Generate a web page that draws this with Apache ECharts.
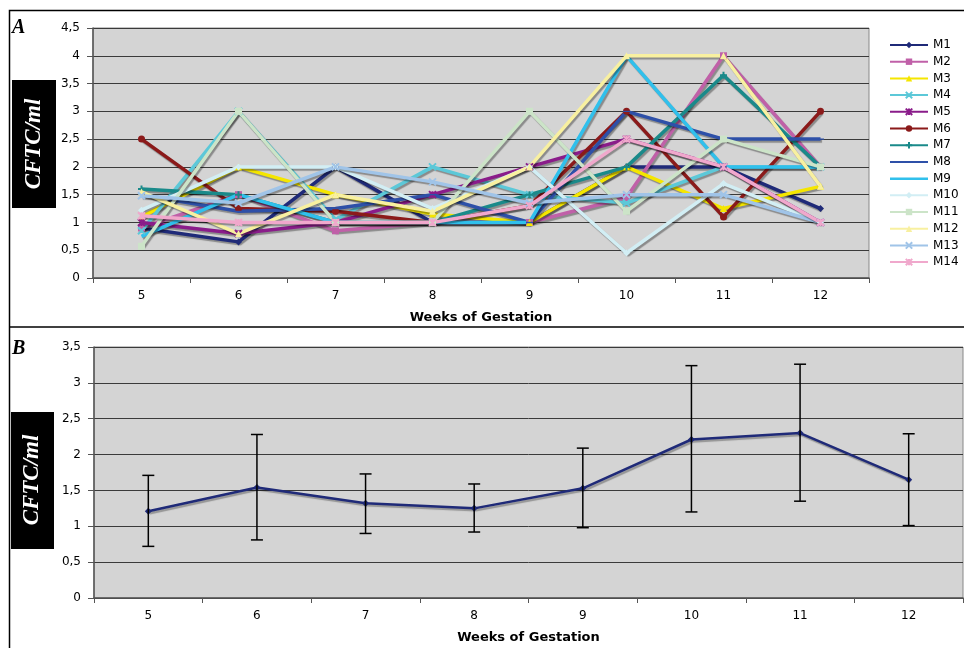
<!DOCTYPE html>
<html><head><meta charset="utf-8">
<script src="https://cdn.jsdelivr.net/npm/echarts@6/dist/echarts.min.js"></script>
<style>html,body{margin:0;padding:0;background:#fff}#c{width:964px;height:648px}</style>
</head><body><div id="c"></div>
<script>
var weeks = ['5','6','7','8','9','10','11','12'];
var seriesNames = ['M1','M2','M3','M4','M5','M6','M7','M8','M9','M10','M11','M12','M13','M14'];
var M1  = [0.9, 0.65, 2.0, 1.0, 1.0, 2.0, 2.0, 1.25];
var M2  = [0.9, 1.5, 0.85, 1.0, 1.0, 1.45, 4.0, 2.0];
var M3  = [1.1, 2.0, 1.5, 1.15, 1.0, 2.0, 1.25, 1.65];
var M4  = [0.85, 3.0, 1.05, 2.0, 1.5, 1.35, 2.0, 2.0];
var M5  = [1.0, 0.8, 1.0, 1.5, 2.0, 2.5, 2.0, 1.0];
var M6  = [2.5, 1.25, 1.2, 1.0, 1.3, 3.0, 1.1, 3.0];
var M7  = [1.6, 1.5, 1.0, 1.0, 1.5, 2.0, 3.65, 2.0];
var M8  = [1.5, 1.2, 1.25, 1.5, 1.0, 3.0, 2.5, 2.5];
var M9  = [0.75, 1.5, 1.0, 1.0, 1.0, 4.0, 2.0, 2.0];
var M10 = [1.22, 2.0, 2.0, 1.25, 2.0, 0.45, 1.7, 1.0];
var M11 = [0.57, 3.0, 1.0, 1.0, 3.0, 1.2, 2.5, 2.0];
var M12 = [1.55, 0.8, 1.5, 1.2, 2.0, 4.0, 4.0, 1.65];
var M13 = [1.48, 1.35, 2.0, 1.73, 1.35, 1.5, 1.5, 1.0];
var M14 = [1.12, 1.0, 1.0, 1.0, 1.3, 2.5, 2.0, 1.0];
var meanValues = [1.21, 1.54, 1.32, 1.25, 1.53, 2.21, 2.30, 1.65];
var errLow  = [0.72, 0.81, 0.90, 0.92, 0.98, 1.20, 1.35, 1.01];
var errHigh = [1.71, 2.28, 1.73, 1.59, 2.09, 3.24, 3.26, 2.29];

var allData = [M1,M2,M3,M4,M5,M6,M7,M8,M9,M10,M11,M12,M13,M14];
var colors = ['#1F2A78','#C060A8','#F5E600','#5CC8D8','#8A1C8A','#8B1A1A','#1A8A8A','#2E50A8','#30C0EC','#D2EEF4','#CCE4C8','#F8F0A0','#A0C4E8','#F0A8CC'];
var X = 'path://M0,0L10,10L10,10L0,0ZM10,0L0,10L0,10L10,0Z';
var STAR = 'path://M0,0L10,10L10,10L0,0ZM10,0L0,10L0,10L10,0ZM5,0L5,10L5,10L5,0Z';
var PLUS = 'path://M5,0L5,10L5,10L5,0ZM0,5L10,5L10,5L0,5Z';
var DASH = 'path://M0,0L0,0ZM0,4L10,4L10,6L0,6ZM10,10L10,10Z';
var symbols = ['diamond','rect','triangle',X,STAR,'circle',PLUS,DASH,'none','diamond','rect','triangle',X,STAR];
var strokeSym = [false,false,false,true,true,false,true,false,false,false,false,false,true,true];

var fmt = function(v){ return String(v).replace('.', ','); };
var axisFont = {fontFamily:'DejaVu Sans', fontSize:12, color:'#000'};

var series = [];
allData.forEach(function(d, i){
  series.push({
    name: seriesNames[i], type:'line', xAxisIndex:0, yAxisIndex:0, data:d,
    symbol: symbols[i], symbolSize: 7, showSymbol: true,
    color: colors[i],
    lineStyle:{width:3.5, color:colors[i], shadowColor:'rgba(0,0,0,0.35)', shadowOffsetX:1.5, shadowOffsetY:2, shadowBlur:1},
    itemStyle:{color:colors[i], borderColor:colors[i], borderWidth: strokeSym[i]?2:0},
    animation:false, z: 3
  });
});
series.push({
  name:'mean', type:'line', xAxisIndex:1, yAxisIndex:1, data: meanValues,
  symbol:'diamond', symbolSize:7, color:'#1F2A78',
  lineStyle:{width:2.5, color:'#1F2A78', shadowColor:'rgba(0,0,0,0.3)', shadowOffsetX:1.5, shadowOffsetY:2, shadowBlur:1},
  itemStyle:{color:'#1F2A78'}, animation:false, z:4
});
series.push({
  name:'err', type:'custom', xAxisIndex:1, yAxisIndex:1,
  data: weeks.map(function(w,i){ return [i, errLow[i], errHigh[i]]; }),
  renderItem: function(params, api){
    var lo = api.coord([api.value(0), api.value(1)]);
    var hi = api.coord([api.value(0), api.value(2)]);
    var w = 6;
    var st = {stroke:'#000', lineWidth:1.5};
    return {type:'group', children:[
      {type:'line', shape:{x1:lo[0],y1:lo[1],x2:hi[0],y2:hi[1]}, style:st},
      {type:'line', shape:{x1:lo[0]-w,y1:lo[1],x2:lo[0]+w,y2:lo[1]}, style:st},
      {type:'line', shape:{x1:hi[0]-w,y1:hi[1],x2:hi[0]+w,y2:hi[1]}, style:st}
    ]};
  },
  animation:false, z:5
});

function xAxis(gi){
  return {type:'category', gridIndex:gi, data:weeks, boundaryGap:true,
    name:'Weeks of Gestation', nameLocation:'middle', nameGap:33,
    nameTextStyle:{fontFamily:'DejaVu Sans', fontSize:13, fontWeight:'bold', color:'#000'},
    axisLine:{lineStyle:{color:'#555', width:1.5}},
    axisTick:{show:true, alignWithLabel:false, length:5, lineStyle:{color:'#555'}},
    axisLabel:Object.assign({margin:12}, axisFont),
    splitLine:{show:false}};
}
function yAxis(gi, max){
  return {type:'value', gridIndex:gi, min:0, max:max, interval:0.5,
    axisLine:{show:true, lineStyle:{color:'#555', width:1.5}},
    axisTick:{show:true, length:6, lineStyle:{color:'#555'}},
    axisLabel:Object.assign({margin:13, formatter:fmt}, axisFont),
    splitLine:{show:true, lineStyle:{color:'#3a3a3a', width:1}}};
}

var lineOnlyIcon = 'path://M0,0L0,0ZM0,3L38,3L38,5.5L0,5.5ZM38,8L38,8Z';
var legendData = seriesNames.map(function(n, i){
  return symbols[i] === 'none' ? {name:n, icon:lineOnlyIcon} : {name:n};
});

var chart = echarts.init(document.getElementById('c'), null, {renderer:'canvas'});
chart.setOption({
  backgroundColor:'#fff',
  animation:false,
  grid:[
    {left:93, top:28, width:776, height:250, show:true, backgroundColor:'#D4D4D4', borderColor:'#888', borderWidth:1},
    {left:94, top:347, width:869, height:251, show:true, backgroundColor:'#D4D4D4', borderColor:'#888', borderWidth:1}
  ],
  xAxis:[xAxis(0), xAxis(1)],
  yAxis:[yAxis(0, 4.5), yAxis(1, 3.5)],
  legend:{
    data: legendData, orient:'vertical', left:884, top:34,
    itemWidth:38, itemHeight:8, itemGap:4.7,
    textStyle:{fontFamily:'DejaVu Sans', fontSize:12, color:'#000'},
    selectedMode:false
  },
  series: series,
  graphic:[
    {type:'rect', shape:{x:9.5, y:10.5, width:960, height:640}, style:{fill:null, stroke:'#000', lineWidth:1.5}, z:100},
    {type:'line', shape:{x1:9, y1:327, x2:964, y2:327}, style:{stroke:'#000', lineWidth:1.5}, z:100},
    {type:'text', left:12, top:18, style:{text:'A', font:'italic bold 20px "Liberation Serif"', fill:'#000'}, z:100},
    {type:'text', left:12, top:339, style:{text:'B', font:'italic bold 20px "Liberation Serif"', fill:'#000'}, z:100},
    {type:'rect', shape:{x:12, y:80, width:44, height:128}, style:{fill:'#000'}, z:100},
    {type:'text', x:34, y:144, rotation:Math.PI/2, style:{text:'CFTC/ml', font:'italic bold 23px "Liberation Serif"', fill:'#fff', align:'center', verticalAlign:'middle'}, z:101},
    {type:'rect', shape:{x:11, y:412, width:43, height:137}, style:{fill:'#000'}, z:100},
    {type:'text', x:32, y:480, rotation:Math.PI/2, style:{text:'CFTC/ml', font:'italic bold 23px "Liberation Serif"', fill:'#fff', align:'center', verticalAlign:'middle'}, z:101}
  ]
});
</script></body></html>
